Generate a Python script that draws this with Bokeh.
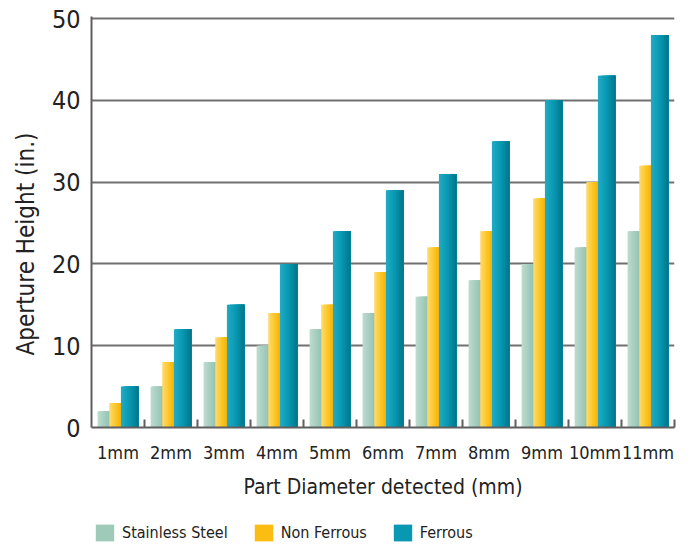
from bokeh.plotting import figure
from bokeh.layouts import column
from bokeh.models import Range1d, FixedTicker, Legend, LegendItem, ColumnDataSource, Title
from bokeh.transform import dodge
from bokeh.embed import file_html
from bokeh.resources import INLINE

# ---- data ----
categories = ["1mm", "2mm", "3mm", "4mm", "5mm", "6mm", "7mm", "8mm", "9mm", "10mm", "11mm"]
stainless_steel = [2, 5, 8, 10, 12, 14, 16, 18, 20, 22, 24]
non_ferrous = [3, 8, 11, 14, 15, 19, 22, 24, 28, 30, 32]
ferrous = [5, 12, 15, 20, 24, 29, 31, 35, 40, 43, 48]
series_names = ["Stainless Steel", "Non Ferrous", "Ferrous"]
y_ticks = [0, 10, 20, 30, 40, 50]

x_pos = [i + 1 for i in range(len(categories))]
source = ColumnDataSource(dict(x=x_pos, ss=stainless_steel, nf=non_ferrous, fe=ferrous))

FONT = "'DejaVu Sans Condensed', Roboto, sans-serif"
TXT = "#222222"
LINE = "#5f5f5f"

p = figure(width=676, height=511, output_backend="svg", toolbar_location=None,
           x_range=Range1d(0.5, len(categories) + 0.5), y_range=Range1d(0, 50.25),
           min_border_left=87, min_border_right=2, min_border_top=16, min_border_bottom=84)
p.outline_line_color = None
p.background_fill_color = "white"
p.border_fill_color = "white"

# grid
p.xgrid.grid_line_color = None
p.ygrid.ticker = FixedTicker(ticks=y_ticks)
p.ygrid.grid_line_color = "#707070"
p.ygrid.grid_line_width = 2

# y axis
p.yaxis.ticker = FixedTicker(ticks=y_ticks)
p.yaxis.major_label_text_font = FONT
p.yaxis.major_label_text_font_size = "25px"
p.yaxis.major_label_text_color = TXT
p.yaxis.major_label_standoff = 11
p.yaxis.major_tick_in = 0
p.yaxis.major_tick_out = 0
p.yaxis.minor_tick_in = 0
p.yaxis.minor_tick_out = 0
p.yaxis.axis_line_color = LINE
p.yaxis.axis_line_width = 2

# y axis title, placed a little below the frame centre as in the reference
ytitle = Title(text="Aperture Height (in.)", align="left", offset=72, standoff=18,
               text_font=FONT, text_font_style="normal", text_font_size="24px",
               text_color=TXT)
p.add_layout(ytitle, "left")

# x axis
boundaries = [x + 0.5 for x in x_pos]
p.xaxis.ticker = FixedTicker(ticks=x_pos, minor_ticks=boundaries)
p.xaxis.major_label_overrides = {x: c for x, c in zip(x_pos, categories)}
p.xaxis.axis_label = "Part Diameter detected (mm)"
p.xaxis.axis_label_text_font = FONT
p.xaxis.axis_label_text_font_style = "normal"
p.xaxis.axis_label_text_font_size = "21px"
p.xaxis.axis_label_text_color = TXT
p.xaxis.axis_label_standoff = 9
p.xaxis.major_label_text_font = FONT
p.xaxis.major_label_text_font_size = "18px"
p.xaxis.major_label_text_color = TXT
p.xaxis.major_label_standoff = 14
p.xaxis.major_tick_in = 0
p.xaxis.major_tick_out = 0
p.xaxis.minor_tick_in = 8
p.xaxis.minor_tick_out = 0
p.xaxis.minor_tick_line_color = LINE
p.xaxis.minor_tick_line_width = 2
p.xaxis.axis_line_color = LINE
p.xaxis.axis_line_width = 2


def hex_to_rgb(h):
    h = h.lstrip("#")
    return tuple(int(h[i:i + 2], 16) for i in (0, 2, 4))


def mix(c1, c2, t):
    a, b = hex_to_rgb(c1), hex_to_rgb(c2)
    return "#%02x%02x%02x" % tuple(round(a[i] + (b[i] - a[i]) * t) for i in range(3))


# gradient stops (left -> mid -> right) for cylinder-like bars
gradients = [
    ("#bddbd0", "#9fcaba", "#80b4a3"),
    ("#ffdc6e", "#fbbd12", "#eea200"),
    ("#22abc4", "#0898b2", "#00768a"),
]
columns = ["ss", "nf", "fe"]
bar_w = 0.33
step = 0.22
n_strips = 12
swatch_colors = []
for k, (col, (c0, c1, c2)) in enumerate(zip(columns, gradients)):
    left = (k - 1) * step - bar_w / 2
    sw = bar_w / n_strips
    for j in range(n_strips):
        t = (j + 0.5) / n_strips
        color = mix(c0, c1, t * 2) if t < 0.5 else mix(c1, c2, (t - 0.5) * 2)
        w = bar_w - j * sw
        off = left + j * sw + w / 2
        p.vbar(x=dodge("x", off, range=p.x_range), top=col, bottom=0,
               width=w, source=source, fill_color=color, line_color=None)
    swatch_colors.append(c1)

# ---- legend strip below the chart ----
lg = figure(width=676, height=32, output_backend="svg", toolbar_location=None,
            x_range=Range1d(0, 1), y_range=Range1d(0, 1),
            x_axis_type=None, y_axis_type=None,
            min_border_left=0, min_border_right=0, min_border_top=0, min_border_bottom=0)
lg.outline_line_color = None
lg.grid.visible = False
items = []
for name, c in zip(series_names, swatch_colors):
    # legend-only swatch renderer, kept outside the visible range
    r = lg.vbar(x=[-5], top=[-5], bottom=[-6], width=0.1, fill_color=c, line_color=None)
    items.append(LegendItem(label=name, renderers=[r]))
legend = Legend(items=items, orientation="horizontal", location=(2, 0),
                margin=0, padding=2, spacing=24, label_standoff=6,
                glyph_width=23, glyph_height=21,
                label_text_font=FONT, label_text_font_size="16px",
                label_text_color=TXT, border_line_color=None,
                background_fill_alpha=0)
lg.add_layout(legend, "center")

layout = column(p, lg, spacing=0)
open("out.html", "w").write(file_html(layout, INLINE))
